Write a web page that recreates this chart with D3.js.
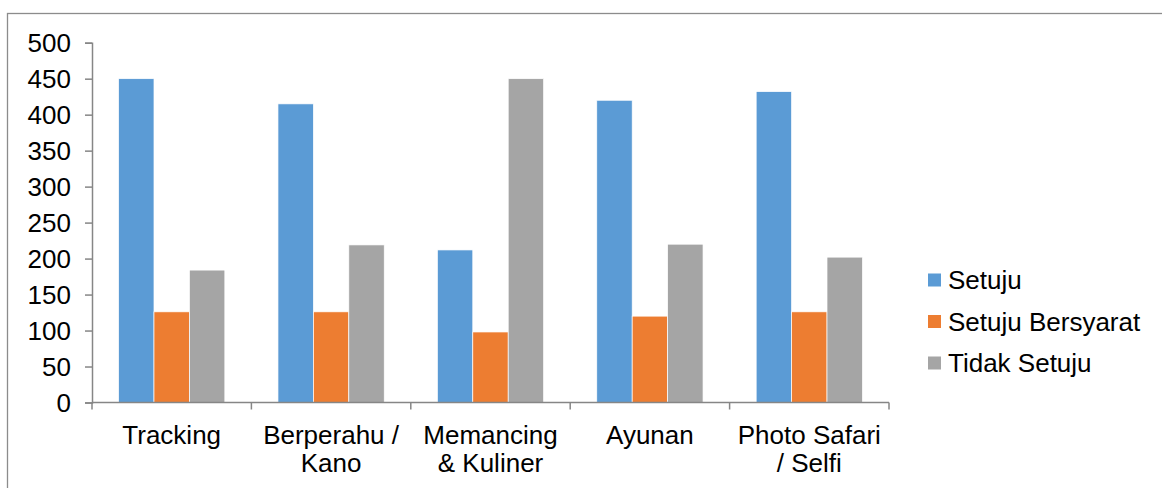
<!DOCTYPE html>
<html>
<head>
<meta charset="utf-8">
<script src="https://cdn.jsdelivr.net/npm/d3@7"></script>
<style>
  body { margin: 0; background: #fff; }
  text { font-family: 'Liberation Sans', Arial, sans-serif; fill: #000; }
</style>
</head>
<body>
<div id="container"></div>
<script>
const categories = ['Tracking', 'Berperahu / Kano', 'Memancing & Kuliner', 'Ayunan', 'Photo Safari / Selfi'];
const seriesNames = ['Setuju', 'Setuju Bersyarat', 'Tidak Setuju'];
const setuju = [450, 415, 212, 420, 432];
const setujuBersyarat = [126, 126, 98, 120, 126];
const tidakSetuju = [184, 219, 450, 220, 202];
const yTicks = [0, 50, 100, 150, 200, 250, 300, 350, 400, 450, 500];
const colors = ['#5B9BD5', '#ED7D31', '#A5A5A5'];

const w = 1162,
  h = 488;

const svg = d3.select('#container').append('svg').attr('width', w).attr('height', h);

// chart area frame (runs off the right and bottom edge)
svg
  .append('rect')
  .attr('x', 7.5)
  .attr('y', 13.5)
  .attr('width', w)
  .attr('height', h)
  .attr('fill', 'none')
  .attr('stroke', '#8c8c8c')
  .attr('stroke-width', 1.3);

const values = [setuju, setujuBersyarat, tidakSetuju];
const rows = categories.map((c, i) => ({
  cat: c,
  vals: seriesNames.map((s, j) => ({ key: s, idx: j, value: values[j][i] }))
}));

const xScale = d3.scaleBand().domain(categories).range([92, 889]).padding(0);
const x1 = d3.scaleBand().domain(seriesNames).range([0, xScale.bandwidth()]).paddingInner(0).paddingOuter(0.75);
const yScale = d3.scaleLinear().domain([0, 500]).range([402.5, 42.7]);

svg
  .append('g')
  .selectAll('g')
  .data(rows)
  .enter()
  .append('g')
  .attr('transform', (d) => 'translate(' + xScale(d.cat) + ',0)')
  .selectAll('rect')
  .data((d) => d.vals)
  .enter()
  .append('rect')
  .attr('x', (d) => x1(d.key))
  .attr('width', x1.bandwidth())
  .attr('y', (d) => yScale(d.value))
  .attr('height', (d) => yScale(0) - yScale(d.value))
  .attr('fill', (d) => colors[d.idx])
  .attr('stroke', '#fff')
  .attr('stroke-width', 0.7);

// y axis
const yAxis = d3.axisLeft(yScale).tickValues(yTicks).tickSize(7).tickPadding(14);
const gy = svg.append('g').attr('transform', 'translate(92,0)').call(yAxis);
gy.select('.domain').attr('stroke', '#868686').attr('stroke-width', 1.5);
gy.selectAll('.tick line').attr('stroke', '#868686').attr('stroke-width', 1.5);
gy.selectAll('.tick text').attr('font-size', 26).attr('fill', '#000').attr('dy', '0.35em');

// x axis, ticks between categories
const gx = svg.append('g').attr('transform', 'translate(0,' + yScale(0) + ')');
gx.append('line')
  .attr('x1', 92)
  .attr('x2', 889)
  .attr('stroke', '#868686')
  .attr('stroke-width', 1.5);
const bounds = categories.map((c) => xScale(c)).concat([xScale(categories[categories.length - 1]) + xScale.bandwidth()]);
gx.selectAll('.xt')
  .data(bounds)
  .enter()
  .append('line')
  .attr('x1', (d) => d)
  .attr('x2', (d) => d)
  .attr('y1', 0)
  .attr('y2', 7)
  .attr('stroke', '#868686')
  .attr('stroke-width', 1.5);

const labels = gx
  .selectAll('.xl')
  .data(categories)
  .enter()
  .append('text')
  .attr('x', (d) => xScale(d) + xScale.bandwidth() / 2)
  .attr('y', 41)
  .attr('text-anchor', 'middle')
  .attr('font-size', 26)
  .text((d) => d);
labels.call(wrap, 150);

// legend
const legend = svg
  .append('g')
  .selectAll('g')
  .data(seriesNames)
  .enter()
  .append('g')
  .attr('transform', (d, i) => 'translate(928,' + (280 + i * 41.5) + ')');
legend
  .append('rect')
  .attr('x', 0)
  .attr('y', -6.5)
  .attr('width', 13)
  .attr('height', 13)
  .attr('fill', (d, i) => colors[i]);
legend
  .append('text')
  .attr('x', 20)
  .attr('y', 0)
  .attr('dy', '0.35em')
  .attr('font-size', 26)
  .text((d) => d);

function wrap(sel, width) {
  sel.each(function () {
    const t = d3.select(this);
    const words = t.text().split(/\s+/);
    const x = t.attr('x');
    const y = t.attr('y');
    t.text(null);
    let line = [];
    let n = 0;
    let span = t.append('tspan').attr('x', x).attr('y', y);
    words.forEach((word) => {
      line.push(word);
      span.text(line.join(' '));
      if (span.node().getComputedTextLength() > width && line.length > 1) {
        line.pop();
        span.text(line.join(' '));
        line = [word];
        n++;
        span = t.append('tspan').attr('x', x).attr('y', +y + n * 28.5).text(word);
      }
    });
  });
}
</script>
</body>
</html>
